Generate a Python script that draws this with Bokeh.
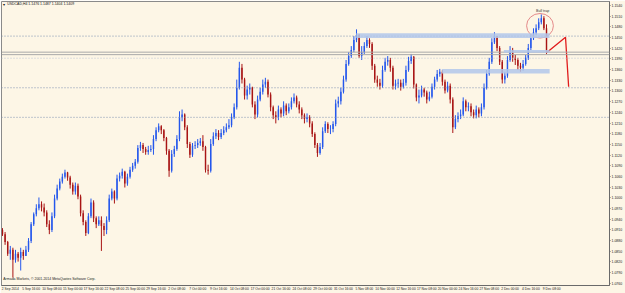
from bokeh.plotting import figure
from bokeh.models import (FixedTicker, Span, BoxAnnotation, Label, Range1d,
                          ColumnDataSource, PrintfTickFormatter)
from bokeh.embed import file_html
from bokeh.resources import INLINE
from bokeh.core.properties import value

# ---------------- data ----------------
title_text = "USDCAD,H4  1.1476 1.1487 1.1404 1.1409"
copyright_text = "Armada Markets, \u00a9 2001-2014 MetaQuotes Software Corp."

first_open = 1.0910
closes = [
    1.0898, 1.0876, 1.0843, 1.0854, 1.0826, 1.0843, 1.0832, 1.0848, 1.0837, 1.0854,
    1.0879, 1.0926, 1.0954, 1.0971, 1.0982, 1.0973, 1.0959, 1.0926, 1.0910, 1.0948,
    1.0998, 1.1026, 1.1046, 1.1059, 1.1071, 1.1057, 1.1037, 1.1018, 1.1034, 1.1004,
    1.0957, 1.0932, 1.0901, 1.0948, 1.0987, 1.0943, 1.0926, 1.0937, 1.0921, 1.0910,
    1.0937, 1.0998, 1.1018, 1.0998, 1.1054, 1.1062, 1.1073, 1.1040, 1.1059, 1.1079,
    1.1090, 1.1101, 1.1140, 1.1148, 1.1137, 1.1129, 1.1134, 1.1137, 1.1165, 1.1190,
    1.1201, 1.1190, 1.1168, 1.1132, 1.1076, 1.1123, 1.1137, 1.1165, 1.1226, 1.1234,
    1.1198, 1.1151, 1.1121, 1.1146, 1.1148, 1.1154, 1.1159, 1.1143, 1.1079, 1.1076,
    1.1151, 1.1173, 1.1182, 1.1171, 1.1182, 1.1190, 1.1198, 1.1204, 1.1226, 1.1254,
    1.1309, 1.1365, 1.1332, 1.1287, 1.1304, 1.1309, 1.1262, 1.1234, 1.1276, 1.1298,
    1.1318, 1.1326, 1.1290, 1.1254, 1.1232, 1.1226, 1.1248, 1.1237, 1.1259, 1.1243,
    1.1254, 1.1271, 1.1282, 1.1262, 1.1248, 1.1232, 1.1221, 1.1226, 1.1209, 1.1179,
    1.1148, 1.1126, 1.1143, 1.1187, 1.1207, 1.1193, 1.1193, 1.1207, 1.1265, 1.1271,
    1.1298, 1.1332, 1.1376, 1.1398, 1.1415, 1.1443, 1.1457, 1.1398, 1.1409, 1.1426,
    1.1443, 1.1432, 1.1371, 1.1332, 1.1323, 1.1315, 1.1359, 1.1382, 1.1387, 1.1365,
    1.1315, 1.1321, 1.1323, 1.1312, 1.1323, 1.1359, 1.1384, 1.1396, 1.1318, 1.1282,
    1.1287, 1.1304, 1.1296, 1.1276, 1.1284, 1.1312, 1.1332, 1.1348, 1.1354, 1.1326,
    1.1301, 1.1315, 1.1276, 1.1198, 1.1221, 1.1229, 1.1234, 1.1271, 1.1254, 1.1257,
    1.1240, 1.1232, 1.1248, 1.1237, 1.1254, 1.1309, 1.1348, 1.1382, 1.1437, 1.1454,
    1.1421, 1.1382, 1.1332, 1.1343, 1.1387, 1.1415, 1.1393, 1.1387, 1.1371, 1.1365,
    1.1376, 1.1393, 1.1421, 1.1448, 1.1465, 1.1476, 1.1493, 1.1504, 1.1476, 1.1409,
]
highs = [
    1.0915, 1.0904, 1.0879, 1.0865, 1.0860, 1.0854, 1.0848, 1.0860, 1.0854, 1.0865,
    1.0887, 1.0932, 1.0959, 1.0982, 1.1001, 1.0990, 1.0984, 1.0965, 1.0937, 1.0959,
    1.1009, 1.1037, 1.1054, 1.1068, 1.1079, 1.1073, 1.1062, 1.1043, 1.1043, 1.1040,
    1.1009, 1.0965, 1.0937, 1.0957, 1.0998, 1.0993, 1.0948, 1.0948, 1.0948, 1.0929,
    1.0948, 1.1009, 1.1026, 1.1021, 1.1065, 1.1071, 1.1082, 1.1076, 1.1068, 1.1087,
    1.1098, 1.1109, 1.1148, 1.1157, 1.1154, 1.1143, 1.1146, 1.1148, 1.1176, 1.1198,
    1.1209, 1.1204, 1.1193, 1.1171, 1.1137, 1.1134, 1.1146, 1.1176, 1.1243, 1.1248,
    1.1237, 1.1204, 1.1157, 1.1154, 1.1159, 1.1165, 1.1168, 1.1176, 1.1146, 1.1093,
    1.1165, 1.1184, 1.1193, 1.1190, 1.1193, 1.1201, 1.1209, 1.1221, 1.1237, 1.1265,
    1.1332, 1.1382, 1.1376, 1.1337, 1.1315, 1.1321, 1.1312, 1.1271, 1.1287, 1.1309,
    1.1332, 1.1337, 1.1332, 1.1296, 1.1259, 1.1243, 1.1259, 1.1254, 1.1271, 1.1265,
    1.1265, 1.1282, 1.1293, 1.1287, 1.1271, 1.1254, 1.1237, 1.1237, 1.1232, 1.1215,
    1.1184, 1.1154, 1.1154, 1.1198, 1.1215, 1.1212, 1.1204, 1.1215, 1.1276, 1.1284,
    1.1309, 1.1343, 1.1387, 1.1409, 1.1426, 1.1454, 1.1473, 1.1460, 1.1426, 1.1437,
    1.1454, 1.1448, 1.1437, 1.1376, 1.1343, 1.1334, 1.1371, 1.1393, 1.1398, 1.1393,
    1.1371, 1.1332, 1.1334, 1.1332, 1.1334, 1.1371, 1.1396, 1.1404, 1.1398, 1.1321,
    1.1304, 1.1315, 1.1309, 1.1301, 1.1298, 1.1321, 1.1340, 1.1359, 1.1362, 1.1359,
    1.1332, 1.1326, 1.1321, 1.1282, 1.1232, 1.1240, 1.1248, 1.1282, 1.1276, 1.1268,
    1.1265, 1.1248, 1.1259, 1.1254, 1.1265, 1.1321, 1.1359, 1.1393, 1.1448, 1.1465,
    1.1454, 1.1426, 1.1387, 1.1354, 1.1398, 1.1426, 1.1421, 1.1401, 1.1393, 1.1379,
    1.1387, 1.1401, 1.1432, 1.1460, 1.1476, 1.1487, 1.1504, 1.1515, 1.1510, 1.1487,
]
lows = [
    1.0893, 1.0868, 1.0837, 1.0826, 1.0776, 1.0818, 1.0821, 1.0796, 1.0826, 1.0837,
    1.0848, 1.0873, 1.0921, 1.0948, 1.0965, 1.0962, 1.0948, 1.0918, 1.0898, 1.0904,
    1.0943, 1.0993, 1.1021, 1.1040, 1.1054, 1.1048, 1.1026, 1.1009, 1.1009, 1.0996,
    1.0948, 1.0923, 1.0893, 1.0898, 1.0943, 1.0932, 1.0915, 1.0921, 1.0851, 1.0893,
    1.0898, 1.0932, 1.0993, 1.0984, 1.0993, 1.1046, 1.1054, 1.1029, 1.1034, 1.1054,
    1.1073, 1.1082, 1.1096, 1.1132, 1.1126, 1.1121, 1.1121, 1.1129, 1.1121, 1.1159,
    1.1184, 1.1179, 1.1159, 1.1121, 1.1059, 1.1071, 1.1115, 1.1132, 1.1159, 1.1215,
    1.1190, 1.1140, 1.1112, 1.1115, 1.1137, 1.1140, 1.1146, 1.1132, 1.1071, 1.1065,
    1.1071, 1.1146, 1.1165, 1.1162, 1.1165, 1.1176, 1.1184, 1.1193, 1.1198, 1.1221,
    1.1248, 1.1304, 1.1321, 1.1276, 1.1276, 1.1290, 1.1254, 1.1221, 1.1226, 1.1271,
    1.1290, 1.1309, 1.1282, 1.1243, 1.1221, 1.1209, 1.1218, 1.1226, 1.1229, 1.1232,
    1.1237, 1.1248, 1.1265, 1.1254, 1.1237, 1.1221, 1.1209, 1.1212, 1.1198, 1.1171,
    1.1140, 1.1115, 1.1121, 1.1137, 1.1182, 1.1182, 1.1179, 1.1184, 1.1201, 1.1254,
    1.1262, 1.1293, 1.1326, 1.1371, 1.1393, 1.1409, 1.1437, 1.1393, 1.1387, 1.1404,
    1.1421, 1.1421, 1.1359, 1.1323, 1.1312, 1.1304, 1.1309, 1.1354, 1.1371, 1.1354,
    1.1304, 1.1304, 1.1309, 1.1301, 1.1307, 1.1315, 1.1354, 1.1376, 1.1307, 1.1271,
    1.1265, 1.1282, 1.1284, 1.1265, 1.1271, 1.1279, 1.1304, 1.1326, 1.1340, 1.1315,
    1.1293, 1.1296, 1.1265, 1.1182, 1.1193, 1.1212, 1.1221, 1.1229, 1.1243, 1.1243,
    1.1229, 1.1223, 1.1223, 1.1226, 1.1229, 1.1248, 1.1304, 1.1343, 1.1376, 1.1432,
    1.1412, 1.1373, 1.1321, 1.1321, 1.1337, 1.1382, 1.1382, 1.1373, 1.1359, 1.1354,
    1.1357, 1.1371, 1.1387, 1.1415, 1.1443, 1.1457, 1.1471, 1.1487, 1.1471, 1.1404,
]

date_labels = [
    "2 Sep 2014", "5 Sep 16:00", "10 Sep 08:00", "15 Sep 00:00", "17 Sep 16:00",
    "22 Sep 08:00", "25 Sep 00:00", "29 Sep 16:00", "2 Oct 08:00", "7 Oct 00:00",
    "9 Oct 16:00", "14 Oct 08:00", "17 Oct 00:00", "21 Oct 16:00", "24 Oct 08:00",
    "29 Oct 00:00", "31 Oct 16:00", "5 Nov 08:00", "10 Nov 00:00", "12 Nov 16:00",
    "17 Nov 08:00", "20 Nov 00:00", "24 Nov 16:00", "27 Nov 08:00", "2 Dec 00:00",
    "4 Dec 16:00", "9 Dec 08:00",
]
candles_per_date_label = 8

price_ticks = [
    1.1540, 1.1510, 1.1480, 1.1450, 1.1420, 1.1390, 1.1360, 1.1330, 1.1300,
    1.1270, 1.1240, 1.1210, 1.1180, 1.1150, 1.1120, 1.1090, 1.1060, 1.1030,
    1.1000, 1.0970, 1.0940, 1.0910, 1.0880, 1.0850, 1.0820, 1.0790, 1.0760,
]

# horizontal levels drawn on the chart
dotted_levels = [1.1454, 1.1309, 1.1226]
faint_levels = [1.1392]
bid_levels = [1.1409, 1.1402]
tag_levels = [1.1452, 1.1392, 1.1310, 1.1225]
tag_texts = ["1.1452", "1.1392", "1.1310", "1.1225"]
bid_tag_level = 1.1409
bid_tag_text = "1.1409"

# highlighted zones (candle index range, price range)
zone_start = [135.9, 192.6, 168.8]
zone_end = [210.2, 210.2, 210.2]
zone_top = [1.1462, 1.1415, 1.1362]
zone_bottom = [1.1449, 1.1407, 1.1349]

# hand-drawn projection and circle
proj_x = [209.0, 216.3, 217.5]
proj_y = [1.1407, 1.1451, 1.1312]
circle_x, circle_y, circle_w, circle_h = 206.5, 1.1483, 10.3, 0.0069
note_text = "Bull trap"
note_x, note_y = 207.5, 1.1525

# ---------------- styles ----------------
BG = "#FDF6E6"
UP = "#2457EC"
DOWN = "#A81414"
FONT = "Liberation Sans"
TXT = "3.5px"

n = len(closes)
opens = [first_open] + closes[:-1]
xs = list(range(n))
hi = [max(h, o, c) for h, o, c in zip(highs, opens, closes)]
lo = [min(l, o, c) for l, o, c in zip(lows, opens, closes)]
src = ColumnDataSource(dict(
    x=xs, open=opens, close=closes, high=hi, low=lo,
    top=[max(o, c) for o, c in zip(opens, closes)],
    bot=[min(o, c) for o, c in zip(opens, closes)],
    color=[UP if c >= o else DOWN for o, c in zip(opens, closes)],
))

p = figure(width=625, height=293, output_backend="svg", toolbar_location=None,
           x_range=Range1d(-0.38, 233.2), y_range=Range1d(1.07539, 1.15512),
           x_axis_location="below", y_axis_location="right",
           min_border_left=1, min_border_top=1, min_border_right=0, min_border_bottom=0,
           background_fill_color=BG, border_fill_color=BG,
           outline_line_color="#8a8a8a")
p.grid.visible = False

ya = p.yaxis[0]
ya.ticker = FixedTicker(ticks=price_ticks)
ya.formatter = PrintfTickFormatter(format="%.4f")
ya.major_label_text_font_size = TXT
ya.major_label_text_font = FONT
ya.major_label_text_color = "#222222"
ya.axis_line_color = "#6a6a6a"
ya.major_tick_line_color = "#6a6a6a"
ya.major_tick_in = 0
ya.major_tick_out = 1
ya.minor_tick_line_color = None
ya.major_label_standoff = 1

xa = p.xaxis[0]
shift = 3
xticks = [candles_per_date_label * k + shift for k in range(len(date_labels))]
xa.ticker = FixedTicker(ticks=xticks)
xa.major_label_overrides = {t: lab for t, lab in zip(xticks, date_labels)}
xa.major_label_text_font_size = "3.3px"
xa.major_label_text_font = FONT
xa.major_label_text_color = "#222222"
xa.axis_line_color = "#6a6a6a"
xa.major_tick_line_color = None
xa.major_tick_in = 0
xa.major_tick_out = 1
xa.minor_tick_line_color = None
xa.major_label_standoff = 0

# horizontal levels
for lv in dotted_levels:
    p.add_layout(Span(location=lv, dimension="width", line_color="#7f93b3",
                      line_width=1, line_dash="1 2"))
for lv in faint_levels:
    p.add_layout(Span(location=lv, dimension="width", line_color="#b9c3d3",
                      line_width=1, line_dash="1 2"))
for lv in bid_levels:
    p.add_layout(Span(location=lv, dimension="width", line_color="#a8a8a8",
                      line_width=1))

# zones
for s, e, t, b in zip(zone_start, zone_end, zone_top, zone_bottom):
    p.add_layout(BoxAnnotation(left=s, right=e, top=t, bottom=b,
                               fill_color="#b2c7ea", fill_alpha=0.85, line_color=None))

# candles
p.segment(x0="x", y0="low", x1="x", y1="high", source=src, line_color="color", line_width=1)
p.vbar(x="x", width=0.55, top="top", bottom="bot", source=src,
       fill_color="color", line_color=None)

# drawings
p.line(proj_x, proj_y, line_color="#e01b1b", line_width=1.3)
p.ellipse(x=circle_x, y=circle_y, width=circle_w, height=circle_h,
          fill_color=None, line_color="#e58a8a", line_width=1)
p.text(x=[note_x], y=[note_y], text=[note_text], text_font=value(FONT),
       text_font_size=value("3.6px"), text_color="#333333",
       text_align="center", text_baseline="middle")

# texts
p.add_layout(Label(x=1.8, y=1.1543, text=title_text, text_font=FONT,
                   text_font_size=TXT, text_color="#111111", text_baseline="middle"))
p.add_layout(Label(x=0.2, y=1.1543, text="\u25be", text_font=FONT,
                   text_font_size="4px", text_color="#111111", text_baseline="middle"))
p.add_layout(Label(x=0.3, y=1.0771, text=copyright_text, text_font=FONT,
                   text_font_size=TXT, text_color="#222222", text_baseline="middle"))

# price tags on the right axis
for lv, t in zip(tag_levels, tag_texts):
    p.add_layout(Label(x=233.3, y=lv, text=t, text_font=FONT, text_font_size=TXT,
                       text_color="white", background_fill_color="#3f73bf",
                       text_baseline="middle", x_offset=1))
p.add_layout(Label(x=233.3, y=bid_tag_level, text=bid_tag_text, text_font=FONT,
                   text_font_size=TXT, text_color="white", background_fill_color="#111111",
                   text_baseline="middle", x_offset=1))

open("out.html", "w").write(file_html(p, INLINE))
